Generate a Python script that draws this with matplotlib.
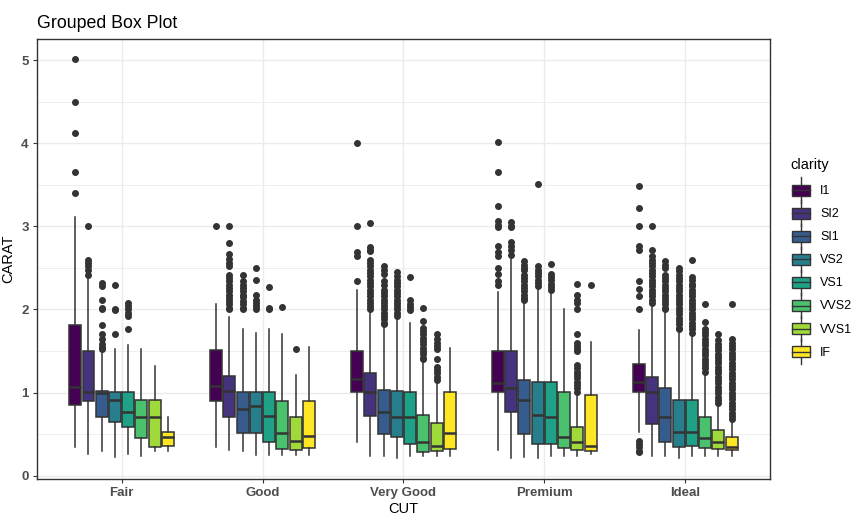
#!/usr/bin/env python
import numpy as np
import matplotlib
matplotlib.use('Agg')
from matplotlib import pyplot as plt
from matplotlib.patches import Rectangle
from matplotlib.lines import Line2D
from matplotlib.legend_handler import HandlerBase

plt.rcParams['font.family'] = ['Liberation Sans', 'DejaVu Sans']

cuts = ['Fair', 'Good', 'Very Good', 'Premium', 'Ideal']
clarity = ['I1', 'SI2', 'SI1', 'VS2', 'VS1', 'VVS2', 'VVS1', 'IF']
colors = ['#440154', '#46337E', '#365C8D', '#277F8E',
          '#1FA187', '#4AC16D', '#9FDA3A', '#FDE725']

# box stats, one row per cut, columns follow clarity
q3 = [[1.81, 1.50, 1.02, 1.01, 1.01, 0.91, 0.91, 0.52],
      [1.51, 1.20, 1.01, 1.01, 1.01, 0.90, 0.71, 0.90],
      [1.50, 1.23, 1.03, 1.02, 1.01, 0.73, 0.63, 1.01],
      [1.50, 1.50, 1.15, 1.13, 1.13, 1.01, 0.59, 0.97],
      [1.34, 1.19, 1.05, 0.91, 0.91, 0.70, 0.55, 0.46]]
med = [[1.07, 1.01, 0.99, 0.91, 0.77, 0.71, 0.71, 0.47],
       [1.08, 1.02, 0.80, 0.84, 0.72, 0.51, 0.42, 0.48],
       [1.16, 1.01, 0.77, 0.71, 0.71, 0.41, 0.36, 0.51],
       [1.12, 1.05, 0.91, 0.73, 0.71, 0.46, 0.41, 0.36],
       [1.13, 1.01, 0.71, 0.53, 0.53, 0.45, 0.41, 0.35]]
q1 = [[0.85, 0.90, 0.71, 0.65, 0.59, 0.45, 0.34, 0.36],
      [0.90, 0.71, 0.51, 0.51, 0.41, 0.32, 0.31, 0.33],
      [1.01, 0.72, 0.50, 0.46, 0.38, 0.28, 0.30, 0.32],
      [1.01, 0.77, 0.50, 0.38, 0.38, 0.33, 0.31, 0.30],
      [1.01, 0.62, 0.41, 0.34, 0.36, 0.33, 0.32, 0.31]]
whis_hi = [[3.11, 2.40, 1.52, 1.53, 1.57, 1.53, 1.32, 0.71],
           [2.07, 1.91, 1.76, 1.72, 1.76, 1.71, 1.21, 1.55],
           [2.24, 2.00, 1.81, 1.88, 1.84, 1.39, 1.13, 1.54],
           [2.21, 2.61, 2.10, 2.24, 2.22, 2.00, 0.99, 1.61],
           [1.75, 2.06, 1.98, 1.75, 1.71, 1.25, 0.87, 0.68]]
whis_lo = [[0.35, 0.26, 0.30, 0.23, 0.26, 0.24, 0.30, 0.30],
           [0.34, 0.31, 0.30, 0.25, 0.25, 0.25, 0.25, 0.25],
           [0.40, 0.24, 0.24, 0.21, 0.24, 0.24, 0.24, 0.24],
           [0.31, 0.21, 0.22, 0.21, 0.24, 0.24, 0.24, 0.26],
           [0.52, 0.24, 0.24, 0.21, 0.24, 0.24, 0.24, 0.24]]

# outliers (dense runs read as closely spaced points)
out_fair = [[5.01, 4.50, 4.13, 3.65, 3.40],
            [3.01, 2.60, 2.56, 2.52, 2.48, 2.42],
            [2.32, 2.28, 2.12, 2.02, 2.00, 1.81, 1.71, 1.65, 1.59, 1.55, 1.52],
            [2.29, 2.01, 1.99, 1.70],
            [2.08, 2.04, 2.00, 1.96, 1.92, 1.76],
            [], [], []]
out_good = [[3.01],
            [3.01, 2.80, 2.67, 2.61, 2.56, 2.52, 2.42, 2.38, 2.34, 2.30, 2.26,
             2.22, 2.18, 2.14, 2.10, 2.06, 2.02, 2.00],
            [2.41, 2.34, 2.30, 2.26, 2.22, 2.18, 2.15, 2.10, 2.06, 2.02, 2.00],
            [2.50, 2.35, 2.17, 2.12, 2.08, 2.04, 2.00],
            [2.27, 2.02, 2.00],
            [2.03],
            [1.52],
            []]
out_vgood = [[4.00, 3.00, 2.69, 2.64, 2.34],
             [3.04, 2.75, 2.72, 2.70, 2.60, 2.56, 2.52, 2.48, 2.44, 2.40, 2.36,
              2.32, 2.28, 2.24, 2.20, 2.16, 2.12, 2.08, 2.04, 2.01],
             [2.52, 2.48, 2.43, 2.34, 2.30, 2.24, 2.20, 2.16, 2.12, 2.08, 2.04,
              2.00, 1.96, 1.92, 1.88, 1.84, 1.82],
             [2.45, 2.40, 2.36, 2.32, 2.28, 2.24, 2.20, 2.16, 2.12, 2.08, 2.04,
              2.00, 1.96, 1.92],
             [2.39, 2.11, 2.07, 2.03, 1.99],
             [2.02, 1.86, 1.78, 1.74, 1.70, 1.66, 1.62, 1.58, 1.54, 1.50, 1.46,
              1.42, 1.40],
             [1.70, 1.64, 1.60, 1.56, 1.52, 1.41, 1.31, 1.27, 1.23, 1.19, 1.15],
             []]
out_premium = [[4.01, 3.66, 3.24, 3.06, 3.02, 2.99, 2.77, 2.69, 2.64, 2.50,
                2.43, 2.34, 2.30],
               [3.05, 3.01, 2.99, 2.81, 2.76, 2.71, 2.66],
               [2.58, 2.54, 2.50, 2.48, 2.42, 2.38, 2.34, 2.30, 2.26, 2.22,
                2.18, 2.14, 2.12],
               [3.51, 2.52, 2.48, 2.44, 2.40, 2.36, 2.32, 2.28],
               [2.55, 2.43, 2.39, 2.35, 2.31, 2.27, 2.23],
               [],
               [2.31, 2.17, 2.12, 2.08, 2.00, 1.71, 1.60, 1.56, 1.52, 1.50,
                1.33, 1.29, 1.25, 1.21, 1.17, 1.13, 1.09, 1.05, 1.01],
               [2.30]]
out_ideal = [[3.49, 3.22, 3.01, 2.76, 2.72, 2.34, 2.25, 2.16, 2.00,
              0.42, 0.38, 0.34, 0.30, 0.28],
             [3.01, 2.72, 2.64, 2.60, 2.56, 2.52, 2.48, 2.44, 2.40, 2.36, 2.32,
              2.28, 2.24, 2.20, 2.16, 2.12, 2.08],
             [2.58, 2.54, 2.50, 2.42, 2.38, 2.34, 2.30, 2.26, 2.22, 2.18, 2.14,
              2.10, 2.06, 2.02, 2.00],
             [2.50, 2.46, 2.42, 2.38, 2.34, 2.30, 2.26, 2.22, 2.18, 2.14, 2.10,
              2.06, 2.02, 1.98, 1.94, 1.90, 1.86, 1.82, 1.78, 1.76],
             [2.59, 2.39, 2.35, 2.31, 2.28, 2.24, 2.20, 2.16, 2.12, 2.08, 2.04,
              2.00, 1.96, 1.92, 1.88, 1.84, 1.80, 1.76, 1.72],
             [2.06, 1.85, 1.77, 1.73, 1.69, 1.65, 1.61, 1.57, 1.53, 1.49, 1.45,
              1.41, 1.37, 1.33, 1.29, 1.25],
             [1.70, 1.63, 1.59, 1.55, 1.51, 1.47, 1.43, 1.39, 1.35, 1.31, 1.27,
              1.23, 1.19, 1.15, 1.11, 1.07, 1.03, 0.99, 0.95, 0.91, 0.87],
             [2.06, 1.65, 1.60, 1.56, 1.52, 1.48, 1.44, 1.40, 1.36, 1.32, 1.28,
              1.24, 1.20, 1.16, 1.12, 1.08, 1.04, 1.00, 0.96, 0.92, 0.88, 0.84,
              0.80, 0.76, 0.72, 0.68]]
outliers = [out_fair, out_good, out_vgood, out_premium, out_ideal]

LINE = '#333333'
step = 0.094       # dodge spacing
box_w = 0.085


class BoxKey(HandlerBase):
    def create_artists(self, legend, orig_handle, xdescent, ydescent,
                       width, height, fontsize, trans):
        x0, y0 = -xdescent, -ydescent
        cx = x0 + width / 2
        bh = 11.0 * 72 / 100     # about 11 px tall
        by = y0 + (height - bh) / 2
        whisk = Line2D([cx, cx], [y0 - 1, y0 + height + 1], color=LINE, lw=1.0,
                       transform=trans)
        box = Rectangle((x0, by), width, bh, facecolor=orig_handle.get_facecolor(),
                        edgecolor=LINE, lw=1.0, transform=trans)
        mline = Line2D([x0, x0 + width], [by + bh / 2, by + bh / 2],
                       color=LINE, lw=1.0, transform=trans)
        return [whisk, box, mline]


fig = plt.figure(figsize=(8.62, 5.26), dpi=100)
ax = fig.add_axes([0.043, 0.0894, 0.850, 0.8356])

for i, cut in enumerate(cuts):
    for k, cl in enumerate(clarity):
        st = dict(med=med[i][k], q1=q1[i][k], q3=q3[i][k],
                  whislo=whis_lo[i][k], whishi=whis_hi[i][k],
                  fliers=outliers[i][k])
        pos = i + 1 + (k - 3.5) * step
        ax.bxp([st], positions=[pos], widths=box_w, patch_artist=True,
               showcaps=False, manage_ticks=False,
               boxprops=dict(facecolor=colors[k], edgecolor=LINE, lw=1.1),
               medianprops=dict(color=LINE, lw=1.8),
               whiskerprops=dict(color=LINE, lw=1.1),
               flierprops=dict(marker='o', markersize=4.0, markerfacecolor=LINE,
                               markeredgecolor=LINE, lw=0))

ax.set_xlim(0.4, 5.6)
ax.set_ylim(-0.04, 5.25)
ax.set_xticks(range(1, 6))
ax.set_xticklabels(cuts)
ax.set_yticks([0, 1, 2, 3, 4, 5])
ax.set_yticks(np.arange(0.5, 5.5, 1.0), minor=True)
ax.grid(True, which='major', color='#EBEBEB', lw=1.0)
ax.grid(True, which='minor', axis='y', color='#EBEBEB', lw=0.6)
ax.set_axisbelow(True)
for sp in ax.spines.values():
    sp.set_color('#333333')
    sp.set_linewidth(1.0)
ax.tick_params(which='major', length=3, color='#333333', labelsize=9.5,
               labelcolor='#4D4D4D', pad=3)
ax.tick_params(which='minor', length=0)
for lb in ax.get_xticklabels() + ax.get_yticklabels():
    lb.set_fontweight('bold')

ax.set_xlabel('CUT', fontsize=10.5, labelpad=2)
ax.set_ylabel('CARAT', fontsize=10.5, labelpad=4)
ax.set_title('Grouped Box Plot', loc='left', fontsize=12.8, pad=8)

# legend: title placed on its own so the gap above the keys matches ggplot
fig.text(0.9165, 0.6863, 'clarity', fontsize=10.5, va='center', ha='left')
handles = [Rectangle((0, 0), 1, 1, facecolor=c) for c in colors]
fig.legend(handles, clarity, handler_map={Rectangle: BoxKey()},
           loc='upper left', bbox_to_anchor=(0.9115, 0.672), frameon=False,
           fontsize=9, handlelength=1.45, handleheight=2.39, labelspacing=0.05,
           handletextpad=0.8, borderpad=0)

fig.savefig('out.png', dpi=100)
